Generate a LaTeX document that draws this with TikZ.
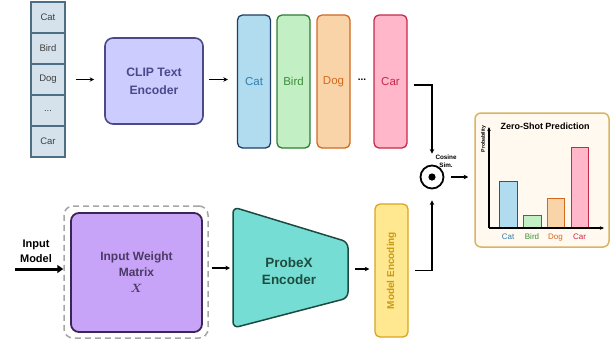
\documentclass[tikz,border=0pt]{standalone}
\usepackage{bm}
\usepackage{fontspec}
\setmainfont{Liberation Sans}
\usetikzlibrary{arrows.meta,calc}

\definecolor{cellf}{HTML}{D5E1EB}
\definecolor{cellb}{HTML}{4E6E86}
\definecolor{celltx}{HTML}{404040}
\definecolor{clipf}{HTML}{CCCCFF}
\definecolor{clipb}{HTML}{4A4A8A}
\definecolor{catf}{HTML}{B1DCF0}
\definecolor{catb}{HTML}{1F3D66}
\definecolor{catt}{HTML}{2E7EB0}
\definecolor{birdf}{HTML}{C3EFC5}
\definecolor{birdb}{HTML}{2E7D32}
\definecolor{birdt}{HTML}{3C8C3C}
\definecolor{dogf}{HTML}{F9D4A9}
\definecolor{dogb}{HTML}{D2691E}
\definecolor{dogt}{HTML}{D2691E}
\definecolor{carf}{HTML}{FFB7C9}
\definecolor{carb}{HTML}{C8284A}
\definecolor{cart}{HTML}{C8284A}
\definecolor{predf}{HTML}{FFF9EF}
\definecolor{predb}{HTML}{D9B462}
\definecolor{iwmf}{HTML}{C8A4F8}
\definecolor{iwmb}{HTML}{3B2458}
\definecolor{iwmt}{HTML}{4A3A66}
\definecolor{prbf}{HTML}{75DDD3}
\definecolor{prbb}{HTML}{1C4A40}
\definecolor{prbt}{HTML}{1E4D40}
\definecolor{encf}{HTML}{FFE890}
\definecolor{encb}{HTML}{D9A521}
\definecolor{enct}{HTML}{C89A1A}
\definecolor{dashc}{HTML}{A6A6A6}

\tikzset{
  cell/.style={draw=cellb, fill=cellf, line width=1.2pt, minimum width=34pt,
    minimum height=31pt, inner sep=0pt, text=celltx, font=\fontsize{9.5}{10}\selectfont},
  emb/.style={rounded corners=5pt, line width=1.3pt, minimum width=33pt,
    minimum height=133pt, inner sep=0pt, font=\fontsize{11.5}{12}\selectfont},
  arr/.style={-{Stealth[length=4.5pt,width=4.5pt]}, line width=1.2pt},
  bar/.style={line width=1pt},
  barlab/.style={font=\fontsize{8}{9}\selectfont, anchor=north},
  iwmbox/.style={draw=iwmb, fill=iwmf, line width=1.8pt, rounded corners=8pt,
    minimum width=131pt, minimum height=119pt, align=center, text=iwmt,
    font=\bfseries\fontsize{12}{16}\selectfont},
}

\begin{document}
\begin{tikzpicture}[x=1pt,y=-1pt]
\useasboundingbox (0,0) rectangle (613,341);

% class names column
\node[cell] (c1) at (48,17.5) {Cat};
\node[cell] (c2) at (48,48.5) {Bird};
\node[cell] (c3) at (48,79.5) {Dog};
\node[cell] (c4) at (48,110.5) {...};
\node[cell] (c5) at (48,141.5) {Car};

% text encoder
\node[draw=clipb, fill=clipf, line width=1.6pt, rounded corners=8pt,
  minimum width=98pt, minimum height=86pt, align=center, text=clipb,
  font=\bfseries\fontsize{12.2}{18}\selectfont] (clip) at (154,81) {CLIP Text\\Encoder};

% text embeddings
\node[emb, draw=catb, fill=catf, text=catt] (ecat) at (254,81.5) {Cat};
\node[emb, draw=birdb, fill=birdf, text=birdt] (ebird) at (293.5,81.5) {Bird};
\node[emb, draw=dogb, fill=dogf, text=dogt] (edog) at (333.5,81.5) {Dog};
\node[font=\bfseries\fontsize{10}{10}\selectfont] (edots) at (362,80) {...};
\node[emb, draw=carb, fill=carf, text=cart] (ecar) at (390.5,81.5) {Car};

% cosine similarity
\node[draw, circle, line width=1.8pt, minimum size=23pt, inner sep=0pt] (cos) at (432,177) {};
\fill (cos.center) circle (3.6pt);
\node[font=\bfseries\fontsize{6.3}{7.5}\selectfont, align=center] (coslab) at (446,161) {Cosine\\Sim.};

% prediction panel
\node[draw=predb, fill=predf, line width=1.5pt, rounded corners=6pt,
  minimum width=134pt, minimum height=134pt] (pred) at (542,180) {};
\node[font=\bfseries\fontsize{9}{10}\selectfont] (ptitle) at (545,126) {Zero-Shot Prediction};
\node[font=\bfseries\fontsize{5.2}{6}\selectfont, rotate=90] (pylab) at (483.5,139) {Probability};
\draw[bar, draw=catb!60!catt, fill=catf] (499,228) rectangle (517,181);
\draw[bar, draw=birdb, fill=birdf] (523,228) rectangle (541,215);
\draw[bar, draw=dogb, fill=dogf] (547,228) rectangle (564,198);
\draw[bar, draw=carb, fill=carf] (571,228) rectangle (588,147);
\coordinate (ax0) at (489,228);
\coordinate (axy) at (489,127);
\coordinate (axx) at (604,228);
\draw[-{Stealth[length=4pt,width=3.5pt]}, line width=1.3pt] (ax0) -- (axy);
\draw[-{Stealth[length=4pt,width=3.5pt]}, line width=1.3pt] (ax0) -- (axx);
\node[barlab, text=catt] (lcat) at (508,230) {Cat};
\node[barlab, text=birdt] (lbird) at (532,230) {Bird};
\node[barlab, text=dogt] (ldog) at (555.5,230) {Dog};
\node[barlab, text=cart] (lcar) at (579.5,230) {Car};

% model branch
\node[font=\bfseries\fontsize{11}{15}\selectfont, align=center] (inlab) at (36,251) {Input\\Model};
\coordinate (instart) at (15,269);
\node[draw=dashc, dash pattern=on 6pt off 4pt, line width=1.5pt, rounded corners=9pt,
  minimum width=144pt, minimum height=132pt] (wbox) at (136,272) {};
\node[iwmbox] (iwm) at (136.5,272.5) {Input Weight\\Matrix\\$\bm{X}$};
\draw[-{Triangle[length=6pt,width=8pt]}, line width=3pt] (instart) -- (instart -| wbox.west);

% encoder trapezoid
\draw[draw=prbb, fill=prbf, line width=1.5pt, rounded corners=6pt]
  (233,207) -- (348,242) -- (348,298) -- (233,328) -- cycle;
\node[text=prbt, align=center, font=\bfseries\fontsize{13.5}{17}\selectfont] (probex) at (289,271) {ProbeX\\Encoder};
\coordinate (pxin) at (233,268);
\coordinate (pxout) at (348,269);

\node[draw=encb, fill=encf, line width=1.3pt, rounded corners=5pt,
  minimum width=33pt, minimum height=133pt, inner sep=0pt] (menc) at (391.5,270.5) {};
\node[rotate=90, text=enct, font=\bfseries\fontsize{10}{10}\selectfont] (menclab) at (menc.center) {Model Encoding};

% connectors
\draw[arr, shorten <=10pt, shorten >=10pt] (c3.east) -- (c3.east -| clip.west);
\draw[arr, shorten <=5pt, shorten >=9pt] (clip.east |- c3.east) -- (c3.east -| ecat.west);
\draw[arr, shorten <=6pt, shorten >=11pt] ([yshift=-3.5pt]ecar.east) -| (cos.north);
\draw[arr, shorten <=6pt, shorten >=11pt] (menc.east) -| (cos.south);
\draw[arr, shorten <=7pt, shorten >=6pt] (cos.east) -- (pred.west |- cos.east);
\draw[arr, shorten <=3pt, shorten >=3pt] (wbox.east |- pxin) -- (pxin);
\draw[arr, shorten <=7pt, shorten >=5pt] (pxout) -- (pxout -| menc.west);
\end{tikzpicture}
\end{document}
